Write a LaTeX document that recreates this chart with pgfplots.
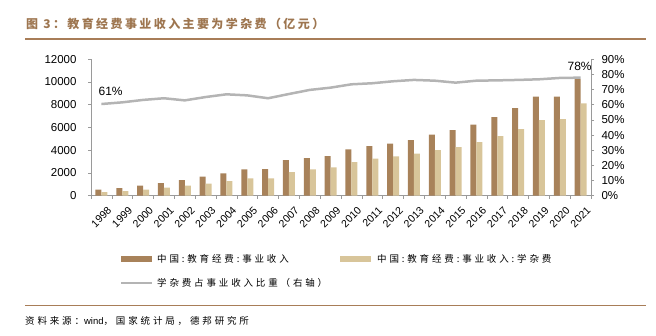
\documentclass[border=0pt]{standalone}
\usepackage{pgfplots}
\pgfplotsset{compat=1.18}
\usepackage{pgfplotstable}
\usepackage{fontspec}
\setmainfont{Liberation Sans}
\newfontfamily\cjk{Noto Sans CJK SC}[LetterSpace=20]
\newfontfamily\cjksp{Noto Sans CJK SC}[LetterSpace=30]
\definecolor{darkbar}{HTML}{A8825A}
\definecolor{lightbar}{HTML}{D8C59A}
\definecolor{ratioline}{HTML}{B4B4B4}
\definecolor{titlec}{HTML}{9E7650}
\definecolor{rulec}{HTML}{A87D58}
\definecolor{axisc}{HTML}{9A9A9A}
\pgfplotstableread{
idx dark light ratio
0 530 320 60.5
1 675 410 61.6
2 880 530 63.2
3 1115 700 64.3
4 1380 880 62.9
5 1670 1055 65.1
6 1965 1290 66.9
7 2320 1525 66.2
8 2345 1525 64.3
9 3140 2080 67.1
10 3315 2320 69.8
11 3490 2490 71.3
12 4075 2960 73.5
13 4370 3255 74.2
14 4575 3460 75.5
15 4900 3695 76.4
16 5365 4020 75.9
17 5775 4280 74.6
18 6245 4720 75.9
19 6920 5250 76.1
20 7710 5865 76.4
21 8710 6655 76.8
22 8710 6745 77.7
23 10265 8120 77.9
}\datatable
\begin{document}
\begin{tikzpicture}[x=1bp,y=1bp]
\path[use as bounding box] (0,0) rectangle (656,335);
% title
\node[anchor=west, inner sep=0pt, text=titlec] at (26,311) {\cjk\bfseries\fontsize{12bp}{13bp}\selectfont 图 3：教育经费事业收入主要为学杂费（亿元）};
\draw[rulec, line width=2bp] (25,296) -- (646,296);
\begin{axis}[
  scale only axis, width=500bp, height=136.4bp,
  at={(91bp,139.3bp)}, anchor=south west,
  xmin=-0.5, xmax=23.5, ymin=0, ymax=12000,
  axis x line*=bottom, axis y line*=left,
  axis line style={draw=axisc, line width=0.6bp},
  ytick={0,2000,...,12000},
  scaled y ticks=false,
  /pgf/number format/assume math mode=true,
  /pgf/number format/set thousands separator={},
  yticklabel style={font=\fontsize{11.5bp}{12bp}\selectfont, xshift=-8bp},
  major y tick style={draw=axisc, line width=0.6bp},
  tick align=outside, major tick length=3bp, minor tick length=3bp,
  xtick={0,...,23},
  major x tick style={draw=none},
  minor xtick={-0.5,0.5,...,23.5},
  minor x tick style={draw=axisc, line width=0.6bp},
  xticklabels={1998,1999,2000,2001,2002,2003,2004,2005,2006,2007,2008,2009,2010,2011,2012,2013,2014,2015,2016,2017,2018,2019,2020,2021},
  xticklabel style={font=\fontsize{10.5bp}{12bp}\selectfont, rotate=45, anchor=east, xshift=2bp, yshift=-13bp},
  ybar=0pt, bar width=6bp,
  clip=false,
]
\addplot[fill=darkbar, draw=none] table[x=idx, y=dark] {\datatable};
\addplot[fill=lightbar, draw=none] table[x=idx, y=light] {\datatable};
\end{axis}
\begin{axis}[
  scale only axis, width=500bp, height=136.4bp,
  at={(91bp,139.3bp)}, anchor=south west,
  xmin=-0.5, xmax=23.5, ymin=0, ymax=90,
  axis x line=none, axis y line*=right,
  axis line style={draw=axisc, line width=0.6bp},
  ytick={0,10,...,90},
  /pgf/number format/assume math mode=true,
  yticklabel={\pgfmathprintnumber{\tick}\%},
  yticklabel style={font=\fontsize{11.5bp}{12bp}\selectfont, xshift=4bp},
  major y tick style={draw=axisc, line width=0.6bp},
  tick align=outside, major tick length=3bp,
  clip=false,
]
\addplot[ratioline, line width=2.5bp, mark=none] table[x=idx, y=ratio] {\datatable};
\node[anchor=south west, inner sep=0pt, font=\fontsize{12bp}{12bp}\selectfont] at (axis cs:0,61) [xshift=-3bp, yshift=7bp] {61\%};
\node[anchor=south, inner sep=0pt, font=\fontsize{12bp}{12bp}\selectfont] at (axis cs:23,78) [xshift=-1bp, yshift=7bp] {78\%};
\end{axis}
% legend
\fill[darkbar] (121,73) rectangle (152,79);
\node[anchor=west, inner sep=0pt] at (157,76) {\cjksp\fontsize{9.5bp}{11bp}\selectfont 中国:教育经费:事业收入};
\fill[lightbar] (340,73) rectangle (371,79);
\node[anchor=west, inner sep=0pt] at (377,76) {\cjksp\fontsize{9.5bp}{11bp}\selectfont 中国:教育经费:事业收入:学杂费};
\draw[ratioline, line width=2.5bp] (121,52) -- (152,52);
\node[anchor=west, inner sep=0pt] at (157,52) {\cjksp\fontsize{9.5bp}{11bp}\selectfont 学杂费占事业收入比重（右轴）};
% source
\draw[rulec, line width=1.5bp] (25,29.7) -- (646,29.7);
\node[anchor=west, inner sep=0pt] at (25,14) {\cjksp\fontsize{9.5bp}{11bp}\selectfont 资料来源：{\fontspec{Liberation Sans}wind}，国家统计局，德邦研究所};
\end{tikzpicture}
\end{document}
